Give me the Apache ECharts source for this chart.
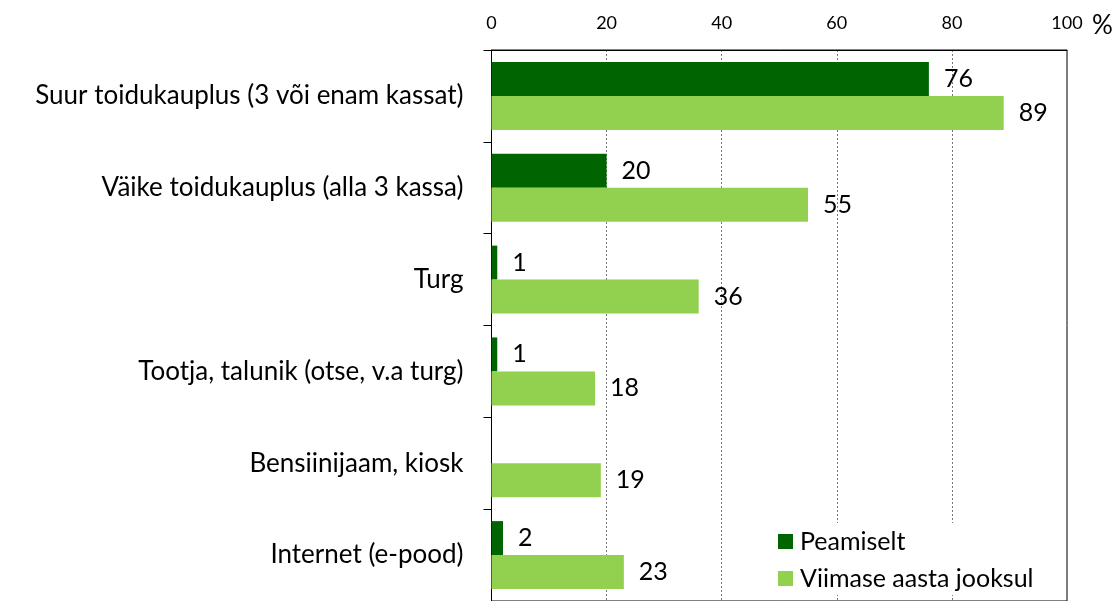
<!DOCTYPE html>
<html lang="et">
<head>
    <meta charset="UTF-8">
    <title>Toidu ostmise kohad</title>
    <script src="https://cdn.jsdelivr.net/npm/echarts@6/dist/echarts.min.js"></script>
    <style>
        html, body { margin: 0; padding: 0; background: #fff; }
        #main { width: 1120px; height: 601px; }
    </style>
</head>
<body>
<div id="main"></div>
<script>
    // kategooriad ja väärtused (%)
    var categories = [
        'Suur toidukauplus (3 või enam kassat)',
        'Väike toidukauplus (alla 3 kassa)',
        'Turg',
        'Tootja, talunik (otse, v.a turg)',
        'Bensiinijaam, kiosk',
        'Internet (e-pood)'
    ];
    var peamiselt = [76, 20, 1, 1, null, 2];
    var viimaseAasta = [89, 55, 36, 18, 19, 23];
    var xTicks = [0, 20, 40, 60, 80, 100];

    var fontName = 'Lato, "Open Sans", sans-serif';
    var myChart = echarts.init(document.getElementById('main'));

    var option = {
        backgroundColor: '#ffffff',
        animation: false,
        textStyle: { fontFamily: fontName },
        grid: {
            left: 491.5, top: 50, width: 575.5, height: 552,
            show: true, borderColor: '#000', borderWidth: 1,
            backgroundColor: 'transparent'
        },
        legend: {
            orient: 'vertical',
            left: 768, top: 523,
            padding: [6, 20, 4, 10],
            backgroundColor: '#ffffff',
            icon: 'rect',
            itemWidth: 15, itemHeight: 15,
            itemGap: 12,
            textStyle: { fontSize: 25, color: '#000', fontFamily: fontName, padding: [0, 0, 0, 2] },
            data: ['Peamiselt', 'Viimase aasta jooksul']
        },
        xAxis: {
            type: 'value',
            position: 'top',
            min: 0, max: 100, interval: 20,
            axisLine: { show: true, lineStyle: { color: '#000' } },
            axisTick: { show: false },
            axisLabel: {
                fontSize: 18, color: '#000', margin: 18,
                formatter: function (v) { return xTicks.indexOf(v) >= 0 ? String(v) : ''; }
            },
            splitLine: { show: true, lineStyle: { color: '#777', type: [2, 2] } }
        },
        yAxis: {
            type: 'category',
            inverse: true,
            data: categories,
            axisLine: { show: true, lineStyle: { color: '#000' } },
            axisTick: { show: true, length: 8, lineStyle: { color: '#000' } },
            axisLabel: { fontSize: 26, color: '#000', margin: 28 }
        },
        graphic: [{
            type: 'text', left: 1092, top: 13,
            style: { text: '%', fontSize: 26, fill: '#000', fontFamily: fontName }
        }],
        series: [{
            name: 'Peamiselt',
            type: 'bar',
            data: peamiselt,
            barGap: '0%',
            barCategoryGap: '26%',
            itemStyle: { color: '#006400' },
            label: { show: true, position: 'right', distance: 15, fontSize: 25, color: '#000' }
        }, {
            name: 'Viimase aasta jooksul',
            type: 'bar',
            data: viimaseAasta,
            barGap: '0%',
            barCategoryGap: '26%',
            itemStyle: { color: '#92d050' },
            label: { show: true, position: 'right', distance: 15, fontSize: 25, color: '#000' }
        }]
    };

    myChart.setOption(option);
</script>
</body>
</html>
